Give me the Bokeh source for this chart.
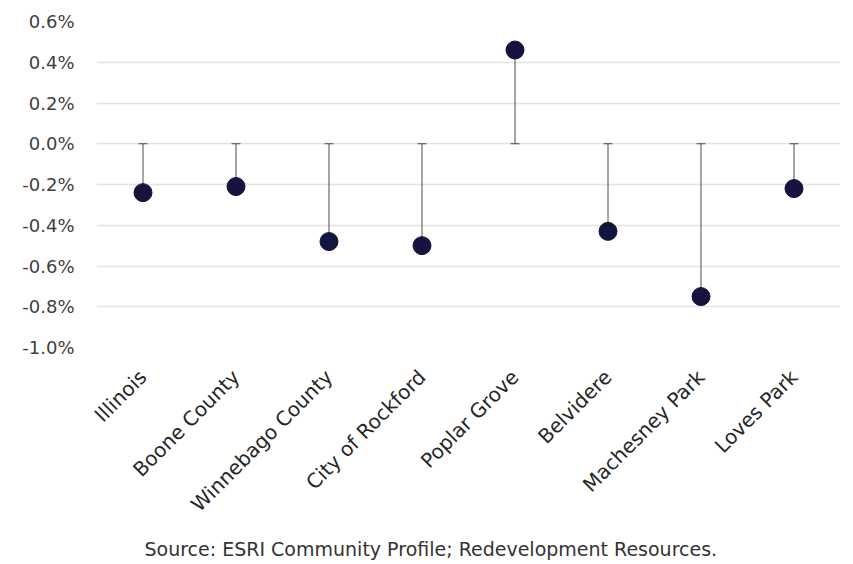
import math
from bokeh.plotting import figure
from bokeh.models import FixedTicker, NumeralTickFormatter, Title, ColumnDataSource
from bokeh.embed import file_html
from bokeh.resources import INLINE

categories = ["Illinois", "Boone County", "Winnebago County", "City of Rockford",
              "Poplar Grove", "Belvidere", "Machesney Park", "Loves Park"]
values = [-0.0024, -0.0021, -0.0048, -0.0050, 0.0046, -0.0043, -0.0075, -0.0022]
y_ticks = [-0.010, -0.008, -0.006, -0.004, -0.002, 0.0, 0.002, 0.004, 0.006]

src = ColumnDataSource(dict(cat=categories, val=values, zero=[0.0] * len(values)))

p = figure(x_range=categories, y_range=(-0.010, 0.006),
           frame_width=744, frame_height=326,
           min_border_left=96, min_border_right=0, min_border_top=21, min_border_bottom=0,
           output_backend="svg", toolbar_location=None)
p.x_range.range_padding = 0

p.segment(x0="cat", y0="zero", x1="cat", y1="val", source=src, line_color="#4a4a4a", line_width=1)
p.scatter(x="cat", y="zero", source=src, marker="dash", size=9, line_color="#4a4a4a", line_width=1)
p.scatter(x="cat", y="val", source=src, size=18, fill_color="#14143f", line_color="#14143f")

p.outline_line_color = None
p.background_fill_color = "white"
p.border_fill_color = "white"

p.yaxis.ticker = FixedTicker(ticks=y_ticks)
p.yaxis.formatter = NumeralTickFormatter(format="0.0%")
p.yaxis.axis_line_color = None
p.yaxis.major_tick_line_color = None
p.yaxis.minor_tick_line_color = None
p.yaxis.major_label_text_font = "DejaVu Sans"
p.yaxis.major_label_text_font_size = "18px"
p.yaxis.major_label_text_color = "#404040"
p.yaxis.major_label_standoff = 16

p.xaxis.axis_line_color = None
p.xaxis.major_tick_line_color = None
p.xaxis.major_label_orientation = math.pi / 4
p.xaxis.major_label_text_font = "DejaVu Sans"
p.xaxis.major_label_text_font_size = "20px"
p.xaxis.major_label_text_color = "#262626"
p.xaxis.major_label_standoff = 20

p.xgrid.grid_line_color = None
p.ygrid.grid_line_color = "#e3e3e3"
p.ygrid.grid_line_width = 1.5

t = Title(text="Source: ESRI Community Profile; Redevelopment Resources.", align="left",
          offset=48, text_font="DejaVu Sans", text_font_size="19px", text_font_style="normal",
          text_color="#333333", standoff=16)
p.add_layout(t, "below")

open("out.html", "w").write(file_html(p, INLINE))
